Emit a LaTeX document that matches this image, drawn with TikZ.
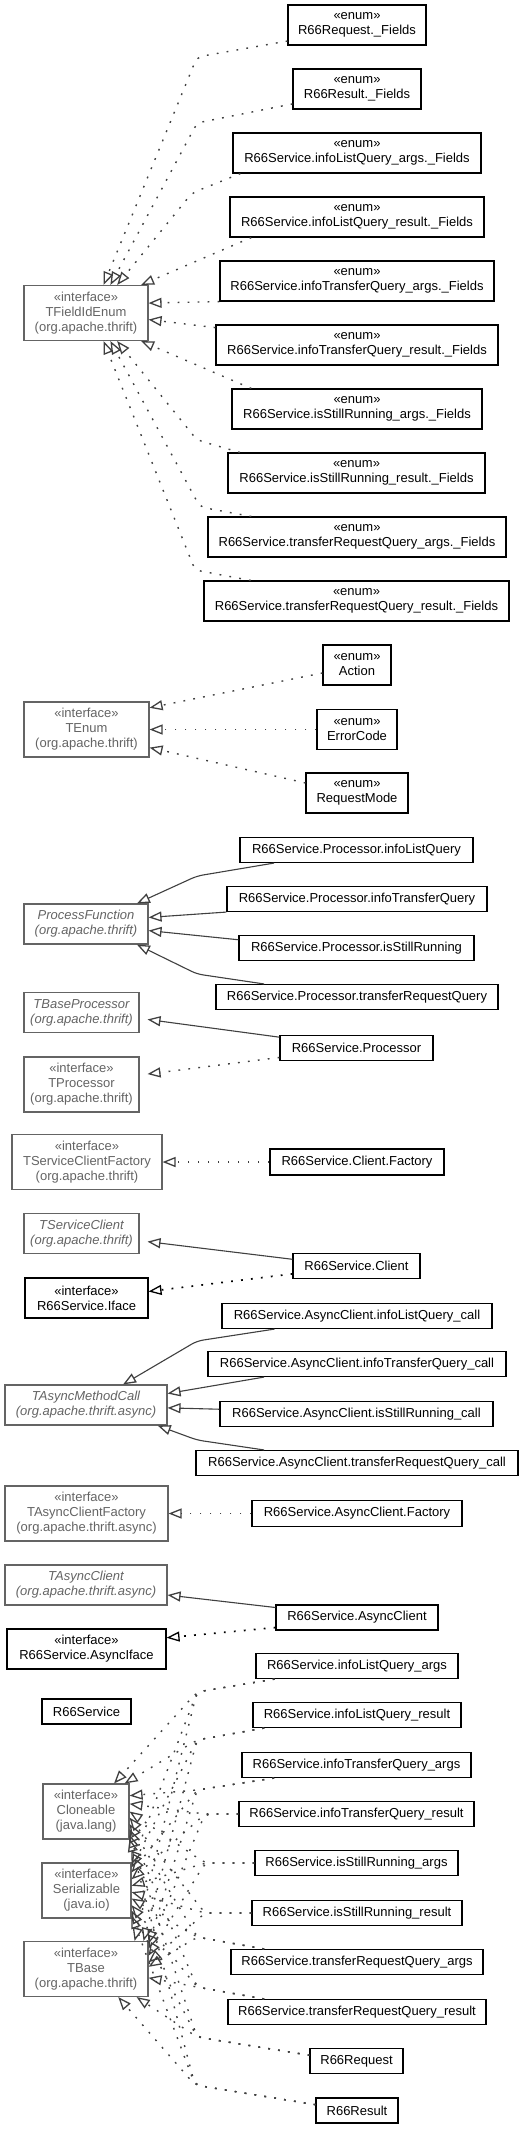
\documentclass[tikz,border=0pt]{standalone}
\usepackage{fontspec}
\setmainfont{Liberation Sans}
\usetikzlibrary{arrows.meta}
\definecolor{extgray}{RGB}{100,100,100}
\definecolor{edgegray}{RGB}{64,64,64}
\newcommand{\dfont}{\fontsize{13bp}{15bp}\selectfont}
\begin{document}
\begin{tikzpicture}[x=1bp,y=1bp,
  cls/.style={draw=black, line width=1.1bp, fill=white, inner sep=0pt, align=center, font=\dfont, text=black},
  extcls/.style={cls, draw=extgray, text=extgray},
  abscls/.style={extcls, font=\dfont\itshape},
  gentip/.style={-{Triangle[open,length=13bp,width=10bp,line width=1.3bp]}},
  inh/.style={draw=edgegray, line width=1.1bp, gentip},
  impl/.style={inh, line width=1.4bp, dash pattern=on 1.8bp off 8.2bp},
  implb/.style={impl, draw=black, line width=1.7bp},
  rc/.style={rounded corners=6bp}
]
\fill[white] (0,0) rectangle (524,-2129);
\useasboundingbox (0,0) rectangle (524,-2129);

% ---------- TFieldIdEnum group
\node[extcls,minimum width=124bp,minimum height=55bp] (tfid) at (86,-313) {«interface»\\TFieldIdEnum\\(org.apache.thrift)};
\node[cls,minimum width=138bp,minimum height=40bp] (reqf) at (357,-25) {«enum»\\R66Request.\_Fields};
\node[cls,minimum width=128bp,minimum height=40bp] (resf) at (357,-89) {«enum»\\R66Result.\_Fields};
\node[cls,minimum width=248bp,minimum height=40bp] (ilqaf) at (357,-153) {«enum»\\R66Service.infoListQuery\_args.\_Fields};
\node[cls,minimum width=254bp,minimum height=40bp] (ilqrf) at (357,-217) {«enum»\\R66Service.infoListQuery\_result.\_Fields};
\node[cls,minimum width=274bp,minimum height=40bp] (itqaf) at (357,-281) {«enum»\\R66Service.infoTransferQuery\_args.\_Fields};
\node[cls,minimum width=282bp,minimum height=40bp] (itqrf) at (357,-345) {«enum»\\R66Service.infoTransferQuery\_result.\_Fields};
\node[cls,minimum width=250bp,minimum height=40bp] (sraf) at (357,-409) {«enum»\\R66Service.isStillRunning\_args.\_Fields};
\node[cls,minimum width=257bp,minimum height=40bp] (srrf) at (356.5,-473) {«enum»\\R66Service.isStillRunning\_result.\_Fields};
\node[cls,minimum width=298bp,minimum height=40bp] (trqaf) at (357,-537) {«enum»\\R66Service.transferRequestQuery\_args.\_Fields};
\node[cls,minimum width=305bp,minimum height=40bp] (trqrf) at (356.5,-601) {«enum»\\R66Service.transferRequestQuery\_result.\_Fields};

\draw[impl,rc] (reqf.193) -- (197,-57) -- (tfid.58);
\draw[impl,rc] (resf.193) -- (197,-123) -- (tfid.49);
\draw[impl,rc] (ilqaf.190) -- (192,-193) -- (tfid.42);
\draw[impl] (ilqrf.191) -- (tfid.27);
\draw[impl] (itqaf.south west) -- (tfid.9);
\draw[impl] (itqrf.173) -- (tfid.-6);
\draw[impl] (sraf.169) -- (tfid.-27);
\draw[impl,rc] (srrf.170) -- (197,-440) -- (tfid.-42);
\draw[impl,rc] (trqaf.169) -- (200,-507) -- (tfid.-49);
\draw[impl,rc] (trqrf.169) -- (195,-570) -- (tfid.-58);

% ---------- TEnum group
\node[extcls,minimum width=125bp,minimum height=55bp] (tenum) at (86.5,-729.5) {«interface»\\TEnum\\(org.apache.thrift)};
\node[cls,minimum width=68bp,minimum height=40bp] (action) at (357,-665) {«enum»\\Action};
\node[cls,minimum width=80bp,minimum height=40bp] (errc) at (357,-729.5) {«enum»\\ErrorCode};
\node[cls,minimum width=102bp,minimum height=40bp] (reqm) at (357,-793) {«enum»\\RequestMode};
\draw[impl] (action.193) -- (tenum.19);
\draw[impl] (errc.west) -- (tenum.east);
\draw[impl] (reqm.169) -- (tenum.-16);

% ---------- ProcessFunction group
\node[abscls,minimum width=124bp,minimum height=40bp] (procf) at (86,-924) {ProcessFunction\\(org.apache.thrift)};
\node[cls,minimum width=233bp,minimum height=25bp] (pilq) at (356.5,-850) {R66Service.Processor.infoListQuery};
\node[cls,minimum width=260bp,minimum height=25bp] (pitq) at (357,-899) {R66Service.Processor.infoTransferQuery};
\node[cls,minimum width=235bp,minimum height=25bp] (pisr) at (356.5,-948) {R66Service.Processor.isStillRunning};
\node[cls,minimum width=282bp,minimum height=25bp] (ptrq) at (357,-997) {R66Service.Processor.transferRequestQuery};
\draw[inh,rc] (pilq.189) -- (197,-876) -- (procf.22);
\draw[inh] (pitq.south west) -- (procf.6);
\draw[inh] (pisr.176) -- (procf.-6);
\draw[inh,rc] (ptrq.172) -- (197,-974) -- (procf.-22);

% ---------- Processor
\node[abscls,minimum width=115bp,minimum height=40bp,outer xsep=8.5bp] (tbp) at (81.5,-1012.5) {TBaseProcessor\\(org.apache.thrift)};
\node[extcls,minimum width=115bp,minimum height=55bp,outer xsep=8.5bp] (tproc) at (81.5,-1084.5) {«interface»\\TProcessor\\(org.apache.thrift)};
\node[cls,minimum width=153bp,minimum height=25bp] (proc) at (356.5,-1048) {R66Service.Processor};
\draw[inh] (proc.172) -- (tbp.-6);
\draw[impl] (proc.187) -- (tproc.9);

% ---------- Client factory
\node[extcls,minimum width=150bp,minimum height=55bp] (tscf) at (87,-1162) {«interface»\\TServiceClientFactory\\(org.apache.thrift)};
\node[cls,minimum width=174bp,minimum height=26bp] (cfac) at (357,-1162) {R66Service.Client.Factory};
\draw[impl] (cfac.west) -- (tscf.east);

% ---------- Client
\node[abscls,minimum width=115bp,minimum height=40bp,outer xsep=8.5bp] (tsc) at (81.5,-1233.5) {TServiceClient\\(org.apache.thrift)};
\node[cls,minimum width=123bp,minimum height=40bp] (iface) at (86.5,-1298) {«interface»\\R66Service.Iface};
\node[cls,minimum width=127bp,minimum height=25bp] (cli) at (356.5,-1266) {R66Service.Client};
\draw[inh] (cli.174) -- (tsc.-7);
\draw[implb] (cli.187) -- (iface.6);

% ---------- Async method calls
\node[abscls,minimum width=162bp,minimum height=40bp] (tamc) at (86,-1405) {TAsyncMethodCall\\(org.apache.thrift.async)};
\node[cls,minimum width=270bp,minimum height=25bp] (ailq) at (357,-1316) {R66Service.AsyncClient.infoListQuery\_call};
\node[cls,minimum width=298bp,minimum height=25bp] (aitq) at (357,-1364) {R66Service.AsyncClient.infoTransferQuery\_call};
\node[cls,minimum width=273bp,minimum height=25bp] (aisr) at (356.5,-1414) {R66Service.AsyncClient.isStillRunning\_call};
\node[cls,minimum width=322bp,minimum height=25bp] (atrq) at (357,-1463) {R66Service.AsyncClient.transferRequestQuery\_call};
\draw[inh,rc] (ailq.189) -- (197,-1341) -- (tamc.29);
\draw[inh] (aitq.188) -- (tamc.8);
\draw[inh] (aisr.178) -- (tamc.-2);
\draw[inh,rc] (atrq.172) -- (197,-1440) -- (tamc.-16);

% ---------- Async client factory
\node[extcls,minimum width=163bp,minimum height=55bp] (tacf) at (86.5,-1513.5) {«interface»\\TAsyncClientFactory\\(org.apache.thrift.async)};
\node[cls,minimum width=210bp,minimum height=26bp] (acf) at (357,-1513.5) {R66Service.AsyncClient.Factory};
\draw[impl] (acf.west) -- (tacf.east);

% ---------- Async client
\node[abscls,minimum width=162bp,minimum height=40bp] (tac) at (86,-1585) {TAsyncClient\\(org.apache.thrift.async)};
\node[cls,minimum width=159bp,minimum height=40bp] (aif) at (86.5,-1649) {«interface»\\R66Service.AsyncIface};
\node[cls,minimum width=162bp,minimum height=25bp] (acl) at (357,-1617.5) {R66Service.AsyncClient};
\draw[inh] (acl.173) -- (tac.-7);
\draw[implb] (acl.187) -- (aif.8);

% ---------- Structs
\node[cls,minimum width=89bp,minimum height=25bp] (svc) at (86.5,-1711.5) {R66Service};
\node[extcls,minimum width=86bp,minimum height=55bp] (clo) at (86,-1811.5) {«interface»\\Cloneable\\(java.lang)};
\node[extcls,minimum width=89bp,minimum height=55bp] (ser) at (86.5,-1890.5) {«interface»\\Serializable\\(java.io)};
\node[extcls,minimum width=124bp,minimum height=55bp] (tbase) at (86,-1969) {«interface»\\TBase\\(org.apache.thrift)};
\node[cls,minimum width=202bp,minimum height=25bp] (ilqa) at (357,-1666) {R66Service.infoListQuery\_args};
\node[cls,minimum width=208bp,minimum height=25bp] (ilqr) at (357,-1715) {R66Service.infoListQuery\_result};
\node[cls,minimum width=229bp,minimum height=25bp] (itqa) at (356.5,-1765) {R66Service.infoTransferQuery\_args};
\node[cls,minimum width=235bp,minimum height=25bp] (itqr) at (356.5,-1814) {R66Service.infoTransferQuery\_result};
\node[cls,minimum width=203bp,minimum height=25bp] (sra) at (356.5,-1863) {R66Service.isStillRunning\_args};
\node[cls,minimum width=210bp,minimum height=25bp] (srr) at (357,-1913) {R66Service.isStillRunning\_result};
\node[cls,minimum width=252bp,minimum height=25bp] (trqa) at (357,-1962) {R66Service.transferRequestQuery\_args};
\node[cls,minimum width=258bp,minimum height=25bp] (trqr) at (357,-2012) {R66Service.transferRequestQuery\_result};
\node[cls,minimum width=93bp,minimum height=25bp] (r66req) at (356.5,-2061) {R66Request};
\node[cls,minimum width=82bp,minimum height=25bp] (r66res) at (357,-2110.5) {R66Result};

\foreach \src/\sang/\wx/\wy/\ca/\cb/\cc in {
  ilqa/189/197/1692/45/30/30,
  ilqr/188/197/1740/36/27/26,
  itqa/189/197/1790/20/22/22,
  itqr/180/205/1814/10/14/18,
  sra/180/205/1863/0/6/12,
  srr/180/205/1913/-8/-2/6,
  trqa/172/197/1937/-16/-10/2,
  trqr/172/197/1987/-22/-18/-8,
  r66req/173/197/2037/-28/-24/-29,
  r66res/172/195/2085/-32/-29/-41}
{
  \draw[impl,rc] (\src.\sang) -- (\wx,-\wy) -- (clo.\ca);
  \draw[impl,rc] (\src.\sang) -- (\wx,-\wy) -- (ser.\cb);
  \draw[impl,rc] (\src.\sang) -- (\wx,-\wy) -- (tbase.\cc);
}
\end{tikzpicture}
\end{document}
